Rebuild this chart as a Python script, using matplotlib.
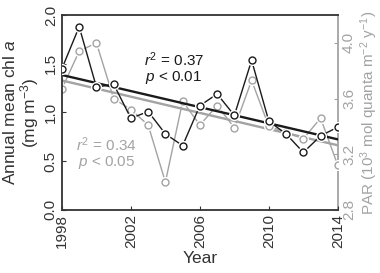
import numpy as np
import matplotlib
matplotlib.use("Agg")
import matplotlib.pyplot as plt

plt.rcParams['font.family'] = ['Liberation Sans', 'DejaVu Sans']
plt.rcParams['mathtext.fontset'] = 'custom'
plt.rcParams['mathtext.rm'] = 'Liberation Sans'
plt.rcParams['mathtext.it'] = 'Liberation Sans:italic'

years = np.arange(1998, 2015)
chl = [1.45, 1.88, 1.26, 1.29, 0.94, 1.01, 0.78, 0.66, 1.07, 1.19, 0.97, 1.535,
       0.91, 0.78, 0.59, 0.76, 0.85]
par = [3.67, 3.94, 4.00, 3.60, 3.52, 3.41, 3.00, 3.58, 3.41, 3.55, 3.39, 3.73,
       3.40, 3.36, 3.31, 3.46, 3.12]
xticks = [1998, 2002, 2006, 2010, 2014]

black = '#1a1a1a'
grey = '#a3a3a3'

fig = plt.figure(figsize=(3.8, 2.73), dpi=100)
ax = fig.add_axes([0.163, 0.231, 0.726, 0.714])
ax2 = ax.twinx()

# PAR series on the right axis
ax2.plot(years, par, color=grey, lw=1.0, zorder=2)
b = np.polyfit(years, par, 1)
ax2.plot([1998, 2014], np.polyval(b, [1998, 2014]), color=grey, lw=1.7, zorder=2)
ax2.plot(years, par, 'o', ms=7, mfc='white', mec='white', zorder=3)
ax2.plot(years, par, 'o', ms=5, mfc='white', mec=grey, mew=1.0, zorder=4)
ax2.set_ylim(2.8, 4.2)
ax2.set_yticks([2.8, 3.2, 3.6, 4.0])
ax2.set_yticklabels(['2.8', '3.2', '3.6', '4.0'], rotation=90, va='center')

# chl series on the left axis, drawn on top
ax.set_zorder(ax2.get_zorder() + 1)
ax.patch.set_visible(False)
ax.plot(years, chl, color=black, lw=1.0, zorder=2)
a = np.polyfit(years, chl, 1)
ax.plot([1998, 2014], np.polyval(a, [1998, 2014]), color=black, lw=1.7, zorder=2)
ax.plot(years, chl, 'o', ms=7, mfc='white', mec='white', zorder=3)
ax.plot(years, chl, 'o', ms=5, mfc='white', mec=black, mew=1.0, zorder=4)
ax.set_ylim(0, 2.0)
ax.set_xlim(1998, 2014)
ax.set_yticks([0, 0.5, 1.0, 1.5, 2.0])
ax.set_yticklabels(['0.0', '0.5', '1.0', '1.5', '2.0'], rotation=90, va='center')
ax.set_xticks(xticks)
ax.set_xticklabels([str(y) for y in xticks], rotation=90)

ax.tick_params(direction='in', labelsize=11, colors='#333333', length=3, pad=3)
ax2.tick_params(direction='in', labelsize=11, colors=grey, length=3, pad=3)
for s in ax.spines.values():
    s.set_color('#333333')
    s.set_linewidth(1.3)
for s in ax2.spines.values():
    s.set_visible(False)
ax2.spines['right'].set_visible(True)
ax2.spines['right'].set_color(grey)
ax2.spines['right'].set_linewidth(1.3)
ax.spines['right'].set_visible(False)

ax.set_ylabel('Annual mean chl $a$\n(mg m$^{-3}$)', fontsize=12.5, color='#333333',
              labelpad=2, linespacing=1.0)
ax2.set_ylabel('PAR (10$^3$ mol quanta m$^{-2}$ y$^{-1}$)', fontsize=11, color=grey, labelpad=2)
ax.set_xlabel('Year', fontsize=12.5, color='#333333', labelpad=2)

ax.text(2004.5, 1.45, '$r^2$ = 0.37\n$p$ < 0.01', ha='center', va='center',
        fontsize=11, color=black, linespacing=1.0)
ax.text(2000.6, 0.58, '$r^2$ = 0.34\n$p$ < 0.05', ha='center', va='center',
        fontsize=11, color=grey, linespacing=1.0)

fig.savefig('out.png', dpi=100)
